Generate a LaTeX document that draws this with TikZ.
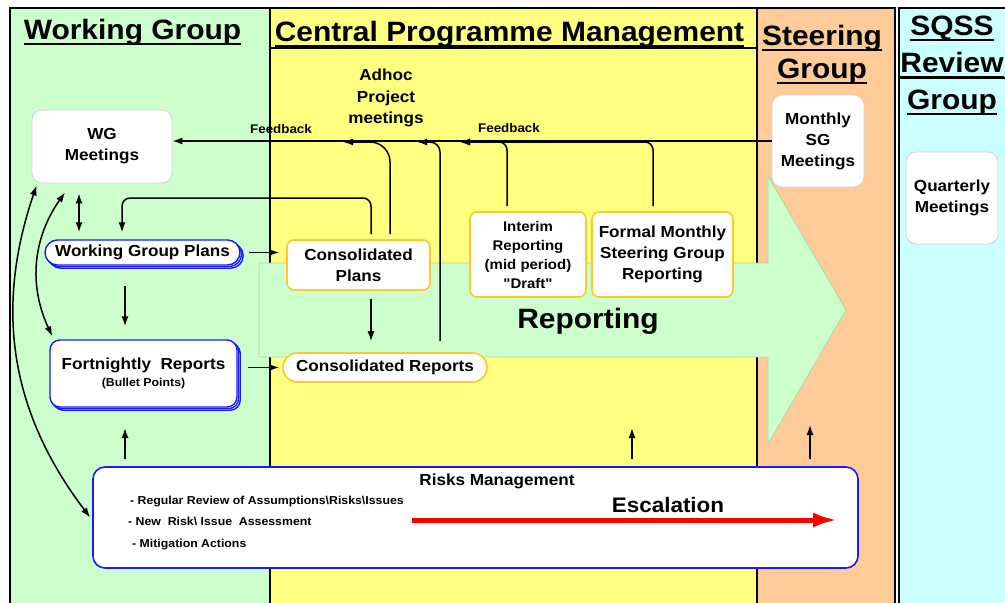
\documentclass[tikz,border=0pt]{standalone}
\usepackage{fontspec}
\setmainfont{Liberation Sans}[FakeStretch=1.07]
\newfontfamily\qtfont{Liberation Sans}[FakeStretch=1.07]
\usetikzlibrary{arrows.meta,positioning,shadows}
\definecolor{wggreen}{HTML}{CCFFCC}
\definecolor{cpmyellow}{HTML}{FFFF80}
\definecolor{sgpeach}{HTML}{FFCC99}
\definecolor{sqcyan}{HTML}{CCFFFF}
\definecolor{orng}{HTML}{FFC62E}
\definecolor{bblue}{HTML}{1A1AFF}
\definecolor{shaftline}{HTML}{A9D9A9}
\newcommand\hdl[1]{\setbox0\hbox{#1}\rlap{\rule[-6pt]{\wd0}{2pt}}\box0}
\newcommand\sq{{\qtfont\bfseries"}}
\tikzset{>={Latex[width=7pt,length=10pt]}}
\tikzset{every node/.style={inner sep=0pt}}
\tikzset{col/.style={draw=black, line width=1.2pt}}
\tikzset{hdr/.style={font=\fontsize{28}{33}\selectfont\bfseries, align=center}}
\tikzset{mtg/.style={draw=black!18, fill=white, rounded corners=10pt, line width=0.8pt,
    align=center, font=\fontsize{16}{21}\selectfont\bfseries}}
\tikzset{wgbox/.style={draw=bblue, fill=white, line width=1.4pt, align=center,
    font=\fontsize{16}{19}\selectfont\bfseries,
    copy shadow={shadow xshift=3.2pt, shadow yshift=-3.2pt, draw=bblue, fill=white},
    copy shadow={shadow xshift=1.6pt, shadow yshift=-1.6pt, draw=bblue, fill=white}}}
\tikzset{cpbox/.style={draw=orng, fill=white, line width=1.6pt, rounded corners=7pt,
    align=center, font=\fontsize{16}{21}\selectfont\bfseries}}
\tikzset{lbl/.style={font=\fontsize{16}{21.5}\selectfont\bfseries, align=center}}
\tikzset{fbl/.style={font=\fontsize{12.5}{15}\selectfont\bfseries}}
\tikzset{blt/.style={font=\fontsize{11.5}{14}\selectfont\bfseries}}
\tikzset{flow/.style={draw=black, line width=1.5pt}}

\begin{document}
\begin{tikzpicture}[x=1pt, y=-1pt]
    \useasboundingbox (0,0) rectangle (1005,603);
    % columns
    \path[col, fill=wggreen] (10,8) rectangle (270,610);
    \path[col, fill=cpmyellow] (270,8) rectangle (757,48);
    \path[col, fill=cpmyellow] (270,48) rectangle (757,610);
    \path[col, fill=sgpeach] (757,8) rectangle (895,610);
    \path[col, fill=sqcyan] (899,8) rectangle (1012,78);
    \path[col, fill=sqcyan] (899,78) rectangle (1012,610);
    % reporting arrow
    \path[fill=wggreen, draw=shaftline, line width=0.8pt] (259,263) -- (768,263) -- (768,176)
        -- (846,310) -- (768,444) -- (768,357) -- (259,357) -- cycle;

    \node(wgh)[hdr, anchor=base] at (132.5,39) {\hdl{Working Group}};
    \node(cpmh)[hdr, anchor=base] at (509.5,41) {\hdl{Central Programme Management}};
    \node(sgh)[hdr, anchor=base] at (822,78) {\hdl{Steering}\\\hdl{Group}};
    \node(sqh)[hdr, anchor=base, font=\fontsize{28}{37}\selectfont\bfseries] at (952,109)
        {\hdl{SQSS}\\\hdl{Review}\\\hdl{Group}};

    \node(wgm)[mtg, minimum width=140pt, minimum height=73pt] at (102,146.5) {WG\\Meetings};
    \node(sgm)[mtg, minimum width=92pt, minimum height=92pt] at (818,141) {Monthly\\SG\\Meetings};
    \node(qm)[mtg, minimum width=92pt, minimum height=92pt] at (952,198) {Quarterly\\Meetings};
    \node(wgp)[wgbox, rounded corners=12.5pt, minimum width=195pt, minimum height=25pt]
        at (142.5,252.5) {Working Group Plans};
    \node(fr)[wgbox, rounded corners=10pt, minimum width=187pt, minimum height=67pt]
        at (143.5,373.5) {Fortnightly\ \ Reports\\[-2pt]{\fontsize{11.5}{14}\selectfont(Bullet Points)}};
    \node(cp)[cpbox, minimum width=143pt, minimum height=50pt] at (358.5,265) {Consolidated\\Plans};
    \node(cr)[cpbox, rounded corners=14.5pt, minimum width=204pt, minimum height=29pt]
        at (385,367.5) {Consolidated Reports};
    \node(irp)[cpbox, minimum width=116pt, minimum height=85pt, font=\fontsize{14}{19}\selectfont\bfseries]
        at (528,254.5) {Interim\\Reporting\\(mid period)\\\sq Draft\sq};
    \node(fmr)[cpbox, minimum width=141pt, minimum height=85pt] at (662.5,254.5)
        {Formal Monthly\\Steering Group\\Reporting};

    \node(adh)[lbl] at (386,98) {Adhoc\\Project\\meetings};
    \node(fbt1)[fbl] at (281,129) {Feedback};
    \node(fbt2)[fbl] at (509,128) {Feedback};
    \node(rep)[anchor=base, font=\fontsize{28}{33}\selectfont\bfseries] at (588,328) {Reporting};

    \node(risk)[draw=bblue, fill=white, line width=1.6pt, rounded corners=12pt,
        minimum width=765pt, minimum height=101pt] at (475.5,517.5) {};
    \node(rmt)[anchor=base, font=\fontsize{16}{19}\selectfont\bfseries] at (497,485) {Risks Management};
    \node(esc)[anchor=base, font=\fontsize{21}{25}\selectfont\bfseries] at (668,512) {Escalation};
    \node(b1)[blt, anchor=base west] at (130,504) {- Regular Review of Assumptions\textbackslash Risks\textbackslash Issues};
    \node(b2)[blt, anchor=base west] at (128,525) {- New\ \ Risk\textbackslash\ Issue\ \ Assessment};
    \node(b3)[blt, anchor=base west] at (132,547) {- Mitigation Actions};

    \coordinate (fb1) at (343,142);
    \coordinate (fb2) at (417,142);
    \coordinate (fb3) at (460,142);
    \coordinate (cpwg) at (122,198);
    \coordinate (up1) at (125,428);
    \coordinate (up2) at (632,428);
    \coordinate (up3) at (810,425);
    \coordinate (es1) at (412,520);
    \coordinate (es2) at (838,520);

    % feedback
    \draw [->][flow] (sgm.west) -- (sgm.west -| wgm.east);
    \draw [->][flow, rounded corners=8pt] ([xshift=-9.5pt,yshift=5pt]fmr.north) |- (fb3);
    \draw [->][flow, rounded corners=8pt] ([xshift=-21pt,yshift=5pt]irp.north) |- (fb3);
    \draw [->][flow, rounded corners=10pt] ([xshift=55pt,yshift=11pt]cr.north) |- (fb2);
    \draw [->][flow, rounded corners=20pt] ([xshift=31.5pt,yshift=5pt]cp.north) |- (fb1);
    \draw [->][flow, rounded corners=8pt] ([xshift=12.5pt,yshift=5pt]cp.north) |- (cpwg)
        -- ([xshift=-20.5pt,yshift=7pt]wgp.north);

    \draw [<->][flow, shorten <=10pt, shorten >=7pt] ([xshift=-23pt]wgm.south) -- ([xshift=-63.5pt]wgp.north);
    \draw [<->][flow] ([xshift=-37pt,yshift=-9pt]wgm.south) to [bend right=30] ([xshift=3pt,yshift=3pt]fr.north west);
    \draw [<->][flow] ([xshift=5pt,yshift=-2pt]wgm.south west) to [bend right=28] ([xshift=-2pt]risk.west);
    \draw [->][flow, shorten <=20pt, shorten >=13pt] (wgp.south -| up1) -- (fr.north -| up1);
    \draw [->][flow, shorten <=8pt, shorten >=7pt] (wgp.east) -- (wgp.east -| cp.west);
    \draw [->][flow, shorten <=10pt, shorten >=3pt] (cr.west -| fr.east) -- (cr.west);
    \draw [->][flow, shorten <=8pt, shorten >=11pt] ([xshift=12.5pt]cp.south) -- ([xshift=-14pt]cr.north);
    \foreach \u in {up1,up2,up3}
        \draw [->][flow, shorten <=7pt] (risk.north -| \u) -- (\u);
    % escalation
    \draw [-{Latex[length=25pt,width=15pt]}][draw=red, line width=5pt] (es1) -- (es2);
\end{tikzpicture}
\end{document}
